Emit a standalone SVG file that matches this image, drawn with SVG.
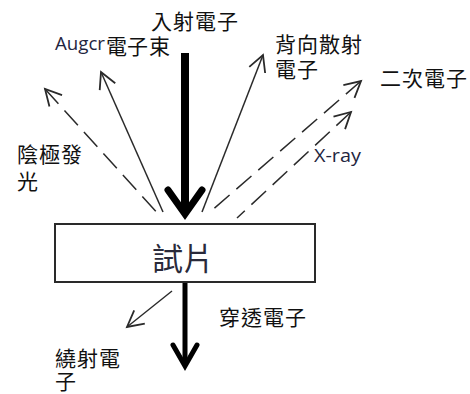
<svg xmlns="http://www.w3.org/2000/svg" width="470" height="394" viewBox="0 0 470 394">
<style>
.cjk{font-family:"Noto Sans CJK TC","Noto Sans CJK SC",sans-serif;font-size:21px;fill:#111;letter-spacing:1px}
.lat{font-family:"Open Sans","Liberation Sans",sans-serif;font-size:18px;fill:#1f2540}
.thin{fill:none;stroke:#2a2a2a;stroke-width:1.5}
.dash{stroke-dasharray:20 9}
.thick{fill:none;stroke:#000;stroke-linejoin:miter}
</style>
<defs>
<marker id="ah" markerUnits="userSpaceOnUse" orient="auto-start-reverse" refX="0" refY="0" markerWidth="40" markerHeight="40" viewBox="-20 -20 40 40" overflow="visible">
<path d="M-16,-8.5 L0,0 L-16,8.5" fill="none" stroke="#2a2a2a" stroke-width="1.8" stroke-dasharray="none" stroke-linejoin="miter"/>
</marker>
</defs>
<g id="connectors">
<path class="thick" d="M185,53 L185,213" stroke-width="8"/>
<path class="thick" d="M168,190 L185,214 L202,190" stroke-width="7" stroke-linecap="round"/>
<path class="thin" d="M101,72 L163,212" marker-start="url(#ah)"/>
<path class="thin dash" d="M45,89 L160,216" marker-start="url(#ah)"/>
<path class="thin" d="M263,55 L202,212" marker-start="url(#ah)"/>
<path class="thin dash" d="M361,81 L210,212" marker-start="url(#ah)"/>
<path class="thin dash" d="M351,112 L237,218" marker-start="url(#ah)"/>
<path class="thick" d="M185,283 L185,365" stroke-width="5"/>
<path class="thick" d="M173,345 L185,366 L197,345" stroke-width="5" stroke-linecap="round"/>
<path class="thin" d="M127,327 L172,291" marker-start="url(#ah)" stroke="#444"/>
</g>
<g id="sample">
<rect x="55" y="224" width="260" height="58" fill="#fff" stroke="#2a2a2a" stroke-width="2"/>
<text x="152" y="270" style="font-family:'Noto Sans CJK TC','Noto Sans CJK SC',sans-serif;font-size:31px;fill:#2a2a3a">試片</text>
</g>
<g id="incident">
<text class="cjk"><tspan x="151" y="28.5">入射電子</tspan><tspan x="149" y="53.5">束</tspan></text>
</g>
<g id="auger">
<text class="lat" x="55" y="50" textLength="50" lengthAdjust="spacingAndGlyphs">Augcr</text>
<text class="cjk" x="106" y="53.5" style="letter-spacing:0">電子</text>
</g>
<g id="backscatter">
<text class="cjk"><tspan x="275" y="52">背向散射</tspan><tspan x="275" y="76.5">電子</tspan></text>
</g>
<g id="secondary">
<text class="cjk" x="380" y="85.5">二次電子</text>
</g>
<g id="cathodoluminescence">
<text class="cjk"><tspan x="17" y="161.5">陰極發</tspan><tspan x="17" y="188.5">光</tspan></text>
</g>
<g id="xray">
<text class="lat" x="314" y="161.5" textLength="47" lengthAdjust="spacingAndGlyphs">X-ray</text>
</g>
<g id="transmitted">
<text class="cjk" x="219" y="325">穿透電子</text>
</g>
<g id="diffracted">
<text class="cjk"><tspan x="55" y="365.5">繞射電</tspan><tspan x="55" y="388.5">子</tspan></text>
</g>
</svg>
